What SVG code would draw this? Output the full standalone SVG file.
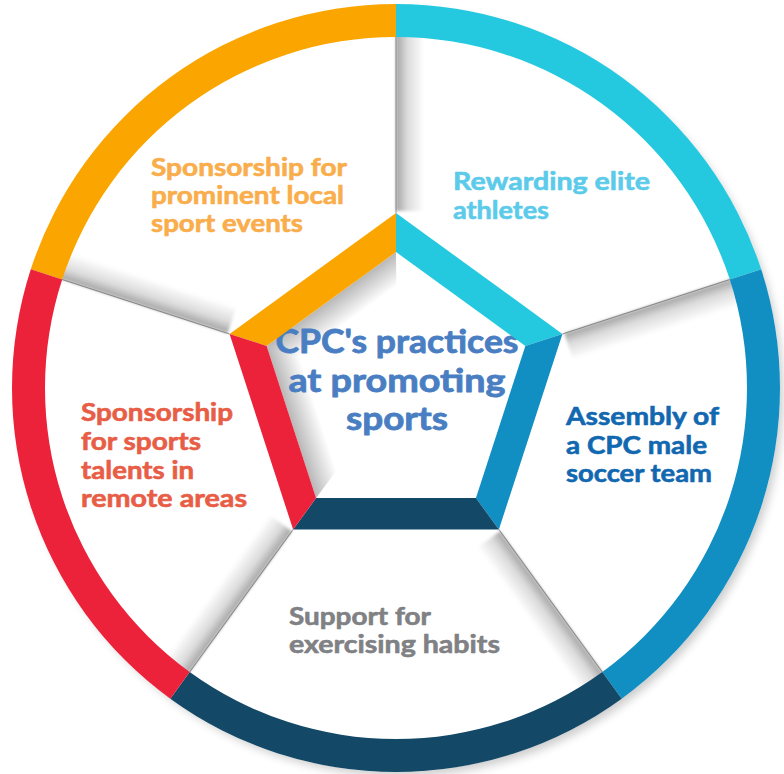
<svg xmlns="http://www.w3.org/2000/svg" width="784" height="774" viewBox="0 0 784 774">
<defs>
<style>
.t{font-family:Lato,"Liberation Sans",sans-serif;font-weight:700;font-size:24px;stroke-width:.6;stroke-linejoin:round}
.c{font-size:32px;stroke-width:.8}
.spl{stroke:#3a3a3a;stroke-width:1;opacity:.5}
</style>
<linearGradient id="spk" x1="0" y1="0" x2="0" y2="1"><stop offset="0" stop-color="#000" stop-opacity=".36"/><stop offset=".4" stop-color="#000" stop-opacity=".14"/><stop offset="1" stop-color="#000" stop-opacity="0"/></linearGradient>
<linearGradient id="inn" x1="1" y1="0" x2="0" y2="0"><stop offset="0" stop-color="#000" stop-opacity=".28"/><stop offset="1" stop-color="#000" stop-opacity="0"/></linearGradient>
<filter id="ds" x="-10%" y="-10%" width="120%" height="120%"><feGaussianBlur stdDeviation="5"/></filter>
<filter id="sb" x="-20%" y="-50%" width="140%" height="200%"><feGaussianBlur stdDeviation="1.5"/></filter>
</defs>
<rect width="784" height="774" fill="#fff"/>
<circle cx="401" cy="394" r="382" fill="#000" opacity=".2" filter="url(#ds)"/>
<circle cx="396" cy="388" r="384" fill="#fff"/>

<g id="connectors">
  <g transform="rotate(-90 396 388)"><rect x="573" y="388" width="176" height="28" fill="url(#spk)" filter="url(#sb)"/><line class="spl" x1="571" y1="388" x2="747" y2="388"/></g>
  <g transform="rotate(-18 396 388)"><rect x="573" y="388" width="176" height="28" fill="url(#spk)" filter="url(#sb)"/><line class="spl" x1="571" y1="388" x2="747" y2="388"/></g>
  <g transform="rotate(54 396 388)"><rect x="573" y="388" width="176" height="28" fill="url(#spk)" filter="url(#sb)"/><line class="spl" x1="571" y1="388" x2="747" y2="388"/></g>
  <g transform="rotate(126 396 388)"><rect x="573" y="388" width="176" height="28" fill="url(#spk)" filter="url(#sb)"/><line class="spl" x1="571" y1="388" x2="747" y2="388"/></g>
  <g transform="rotate(198 396 388)"><rect x="573" y="388" width="176" height="28" fill="url(#spk)" filter="url(#sb)"/><line class="spl" x1="571" y1="388" x2="747" y2="388"/></g>
</g>

<g id="center">
  <polygon points="396,252 525.34,345.97 475.94,498.03 316.06,498.03 266.66,345.97" fill="#fff"/>
  <polygon transform="rotate(234 396 388)" points="506,308.1 506,467.9 478,448 478,328" fill="url(#inn)"/>
  <polygon transform="rotate(162 396 388)" points="506,308.1 506,467.9 478,448 478,328" fill="url(#inn)"/>
  <text class="t c" fill="#4a7ec2" stroke="#4a7ec2" text-anchor="middle"><tspan x="397" y="353" textLength="243" lengthAdjust="spacingAndGlyphs">CPC's practices</tspan><tspan x="397" y="392" textLength="217" lengthAdjust="spacingAndGlyphs">at promoting</tspan><tspan x="397" y="430" textLength="102" lengthAdjust="spacingAndGlyphs">sports</tspan></text>
</g>

<g id="sponsorship-events">
  <path d="M30.79,269.34 A384,384 0 0 1 396,4 L396,37 A351,351 0 0 0 62.18,279.53 Z" fill="#faa500"/>
  <polygon points="229.56,333.92 396,213 396,252 266.66,345.97" fill="#faa500"/>
  <text class="t" fill="#f9ad4b" stroke="#f9ad4b"><tspan x="151" y="176" textLength="196" lengthAdjust="spacingAndGlyphs">Sponsorship for</tspan><tspan x="151" y="204" textLength="193" lengthAdjust="spacingAndGlyphs">prominent local</tspan><tspan x="151" y="232" textLength="152" lengthAdjust="spacingAndGlyphs">sport events</tspan></text>
</g>

<g id="rewarding-athletes">
  <path d="M396,4 A384,384 0 0 1 761.21,269.34 L729.82,279.53 A351,351 0 0 0 396,37 Z" fill="#25c9df"/>
  <polygon points="396,213 562.44,333.92 525.34,345.97 396,252" fill="#25c9df"/>
  <text class="t" fill="#5ccbea" stroke="#5ccbea"><tspan x="453" y="190" textLength="197" lengthAdjust="spacingAndGlyphs">Rewarding elite</tspan><tspan x="453" y="219" textLength="96" lengthAdjust="spacingAndGlyphs">athletes</tspan></text>
</g>

<g id="soccer-team">
  <path d="M761.21,269.34 A384,384 0 0 1 621.71,698.66 L602.31,671.97 A351,351 0 0 0 729.82,279.53 Z" fill="#118ec2"/>
  <polygon points="562.44,333.92 498.86,529.58 475.94,498.03 525.34,345.97" fill="#118ec2"/>
  <text class="t" fill="#1168b0" stroke="#1168b0"><tspan x="566" y="425" textLength="153" lengthAdjust="spacingAndGlyphs">Assembly of</tspan><tspan x="566" y="454" textLength="141" lengthAdjust="spacingAndGlyphs">a CPC male</tspan><tspan x="566" y="482" textLength="146" lengthAdjust="spacingAndGlyphs">soccer team</tspan></text>
</g>

<g id="exercising-habits">
  <path d="M621.71,698.66 A384,384 0 0 1 170.29,698.66 L189.69,671.97 A351,351 0 0 0 602.31,671.97 Z" fill="#134867"/>
  <polygon points="498.86,529.58 293.14,529.58 316.06,498.03 475.94,498.03" fill="#134867"/>
  <text class="t" fill="#808184" stroke="#808184"><tspan x="289" y="625" textLength="142" lengthAdjust="spacingAndGlyphs">Support for</tspan><tspan x="289" y="653" textLength="211" lengthAdjust="spacingAndGlyphs">exercising habits</tspan></text>
</g>

<g id="remote-talents">
  <path d="M170.29,698.66 A384,384 0 0 1 30.79,269.34 L62.18,279.53 A351,351 0 0 0 189.69,671.97 Z" fill="#ec223b"/>
  <polygon points="293.14,529.58 229.56,333.92 266.66,345.97 316.06,498.03" fill="#ec223b"/>
  <text class="t" fill="#e85d46" stroke="#e85d46"><tspan x="81" y="421" textLength="152" lengthAdjust="spacingAndGlyphs">Sponsorship</tspan><tspan x="81" y="450" textLength="120" lengthAdjust="spacingAndGlyphs">for sports</tspan><tspan x="81" y="479" textLength="113" lengthAdjust="spacingAndGlyphs">talents in</tspan><tspan x="81" y="507" textLength="166" lengthAdjust="spacingAndGlyphs">remote areas</tspan></text>
</g>
</svg>
